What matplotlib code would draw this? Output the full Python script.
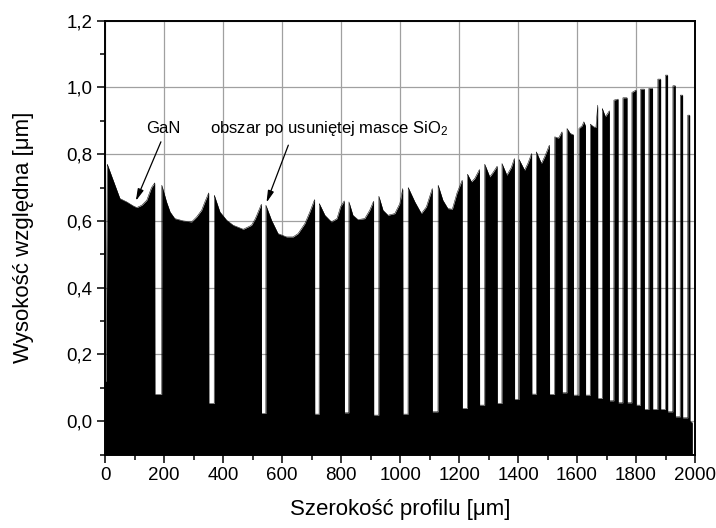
import numpy as np
import matplotlib
matplotlib.use("Agg")
import matplotlib.pyplot as plt
from matplotlib.ticker import FixedLocator

# ---------------- data ----------------
# top surface of the GaN stripes (mesas): x [um], height [um]
mesa_x = [0, 3, 7, 27, 50, 73, 95, 107, 124, 141, 157, 168,
          192, 208, 220, 236, 265, 293, 310, 327, 338, 351,
          370, 389, 412, 434, 468, 496, 508, 514, 529.5,
          545, 564, 586, 615, 637, 654, 677, 694, 710,
          726, 745, 767, 786, 798, 810.5,
          826.5, 840, 857, 880, 897, 910,
          928, 942, 959, 982, 999, 1009,
          1027.5, 1050, 1072, 1089, 1109,
          1129, 1145, 1162, 1177, 1193, 1210.5,
          1228.5, 1242, 1253, 1269,
          1287, 1304, 1315, 1329,
          1345.5, 1362, 1377, 1387.5,
          1403.5, 1422, 1433, 1446,
          1462, 1479, 1490, 1506,
          1524.5, 1537, 1549,
          1566, 1577, 1587.5,
          1606.5, 1617, 1623, 1628.5,
          1645, 1656, 1664, 1670,
          1685.5, 1696, 1709.5,
          1725, 1739,
          1755.5, 1769.5,
          1786, 1800,
          1815.5, 1828,
          1843.5, 1856,
          1874, 1883.5,
          1900, 1907,
          1925, 1933,
          1950, 1958,
          1975.5, 1982,
          1983, 1991]
mesa_y = [0.12, 0.12, 0.77, 0.722, 0.667, 0.657, 0.645, 0.640, 0.647, 0.662, 0.700, 0.714,
          0.707, 0.657, 0.627, 0.607, 0.600, 0.597, 0.612, 0.632, 0.657, 0.684,
          0.677, 0.627, 0.602, 0.587, 0.575, 0.587, 0.605, 0.617, 0.650,
          0.647, 0.602, 0.562, 0.552, 0.552, 0.562, 0.592, 0.627, 0.664,
          0.652, 0.617, 0.597, 0.607, 0.642, 0.660,
          0.657, 0.617, 0.604, 0.607, 0.632, 0.659,
          0.674, 0.632, 0.617, 0.622, 0.652, 0.697,
          0.700, 0.657, 0.622, 0.642, 0.697,
          0.707, 0.662, 0.637, 0.635, 0.684, 0.722,
          0.740, 0.717, 0.727, 0.754,
          0.770, 0.732, 0.745, 0.764,
          0.772, 0.737, 0.760, 0.787,
          0.784, 0.752, 0.772, 0.802,
          0.807, 0.772, 0.792, 0.827,
          0.852, 0.848, 0.867,
          0.877, 0.862, 0.858,
          0.877, 0.885, 0.897, 0.885,
          0.890, 0.882, 0.880, 0.947,
          0.937, 0.912, 0.930,
          0.962, 0.965,
          0.969, 0.969,
          0.985, 0.992,
          0.995, 0.995,
          0.997, 0.997,
          1.025, 1.025,
          1.037, 1.037,
          1.005, 1.005,
          0.977, 0.977,
          0.917, 0.917,
          0.000, -0.005]

# grooves left after removing the SiO2 mask: edges [um] and floor height [um]
valley_left = [168.7, 351.6, 530.1, 710.7, 811.3, 910.6, 1009.8, 1109.4, 1211.1,
               1269.6, 1329.6, 1388.2, 1446.8, 1506.8, 1549.8, 1588.1, 1628.9,
               1670.4, 1710.0, 1739.5, 1770.0, 1800.5, 1828.6, 1856.7, 1883.8,
               1907.5, 1933.6, 1958.3]
valley_right = [191.4, 369.6, 544.7, 725.3, 825.9, 927.5, 1026.8, 1128.4, 1228.0,
                1286.6, 1345.2, 1402.8, 1461.7, 1523.7, 1565.4, 1606.1, 1644.6,
                1685.3, 1724.6, 1755.1, 1785.6, 1815.0, 1843.2, 1873.6, 1899.7,
                1924.5, 1949.5, 1975.3]
valley_floor = [0.080, 0.053, 0.023, 0.021, 0.025, 0.018, 0.021, 0.028, 0.038, 0.048,
                0.053, 0.065, 0.081, 0.080, 0.085, 0.078, 0.078, 0.068, 0.061, 0.055,
                0.055, 0.048, 0.035, 0.035, 0.035, 0.028, 0.013, 0.010]

x_ticks = [0, 200, 400, 600, 800, 1000, 1200, 1400, 1600, 1800, 2000]
x_tick_labels = ["0", "200", "400", "600", "800", "1000", "1200", "1400",
                 "1600", "1800", "2000"]
x_minor = [100, 300, 500, 700, 900, 1100, 1300, 1500, 1700, 1900]
y_ticks = [0.0, 0.2, 0.4, 0.6, 0.8, 1.0, 1.2]
y_tick_labels = ["0,0", "0,2", "0,4", "0,6", "0,8", "1,0", "1,2"]
y_minor = [-0.1, 0.1, 0.3, 0.5, 0.7, 0.9, 1.1]

x_label = "Szerokość profilu [μm]"
y_label = "Wysokość względna [μm]"
note_gan = "GaN"
note_groove = "obszar po usuniętej masce SiO$_2$"
# annotation anchors (text position, arrow tail, arrow head) in data units
gan_text = (197, 0.862)
gan_tail = (189, 0.837)
gan_head = (104, 0.660)
groove_text = (356, 0.862)
groove_tail = (621, 0.827)
groove_head = (547, 0.655)

# ---------------- figure ----------------
plt.rcParams['font.family'] = ['Liberation Sans', 'DejaVu Sans']
plt.rcParams['mathtext.fontset'] = 'custom'
plt.rcParams['mathtext.rm'] = 'Liberation Sans'
plt.rcParams['mathtext.default'] = 'regular'

fig = plt.figure(figsize=(7.16, 5.28), dpi=100)
ax = fig.add_axes([0.1469, 0.1392, 0.8238, 0.8216])
ax.set_xlim(0, 2000)
ax.set_ylim(-0.1, 1.2)

px = np.array(mesa_x + valley_left + valley_right, dtype=float)
py = np.array(mesa_y + valley_floor + valley_floor, dtype=float)
order = np.argsort(px, kind="stable")
px, py = px[order], py[order]

base = ax.get_ylim()[0]
ax.fill_between(px, py, base, color="black", lw=0, zorder=2)
ax.plot(px, py, color="black", lw=0.35, zorder=3)

ax.xaxis.set_major_locator(FixedLocator(x_ticks))
ax.xaxis.set_minor_locator(FixedLocator(x_minor))
ax.set_xticklabels(x_tick_labels)
ax.yaxis.set_major_locator(FixedLocator(y_ticks))
ax.yaxis.set_minor_locator(FixedLocator(y_minor))
ax.set_yticklabels(y_tick_labels)

ax.grid(True, which="major", color="#a0a0a0", lw=0.9)
ax.set_axisbelow(True)

for s in ax.spines.values():
    s.set_linewidth(1.4)
    s.set_color("black")

ax.tick_params(which="major", direction="out", length=6, width=1.1,
               labelsize=13.5, pad=3, top=False, right=False)
ax.tick_params(which="minor", direction="out", length=3.6, width=1.1,
               top=False, right=False)

ax.set_xlabel(x_label, fontsize=16)
ax.set_ylabel(y_label, fontsize=16)
ax.xaxis.set_label_coords(0.5, -0.102)
ax.yaxis.set_label_coords(-0.12, 0.5)

ax.text(*gan_text, note_gan, fontsize=12, ha="center", va="baseline", zorder=5)
ax.text(*groove_text, note_groove, fontsize=12, ha="left", va="baseline", zorder=5)
arrow = dict(arrowstyle="-|>,head_length=0.7,head_width=0.18", color="black",
             lw=0.9, shrinkA=0, shrinkB=0)
ax.annotate("", xy=gan_head, xytext=gan_tail, arrowprops=arrow, zorder=5)
ax.annotate("", xy=groove_head, xytext=groove_tail, arrowprops=arrow, zorder=5)

fig.savefig("out.png", dpi=100)
